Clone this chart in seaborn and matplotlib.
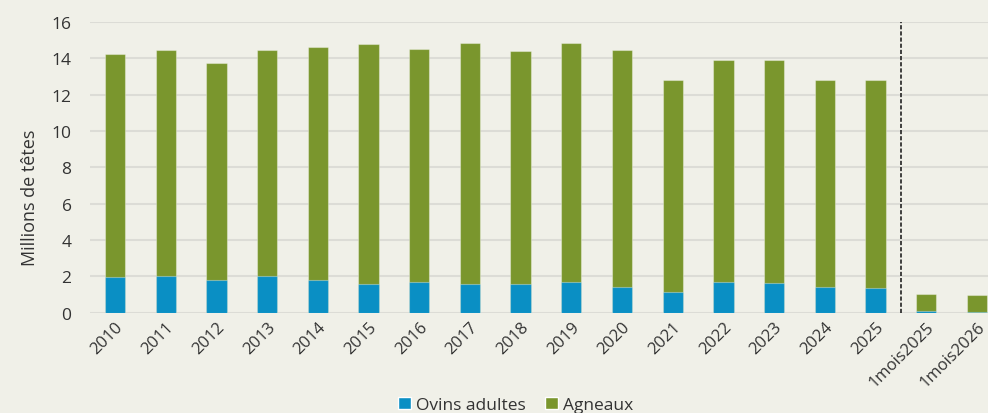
import numpy as np
import pandas as pd
import seaborn as sns
import matplotlib.pyplot as plt
from matplotlib.patches import Patch

# ── Data ────────────────────────────────────────────────────────────────────
periods = ["2010", "2011", "2012", "2013", "2014", "2015", "2016", "2017",
           "2018", "2019", "2020", "2021", "2022", "2023", "2024", "2025",
           "1mois2025", "1mois2026"]
ovins_adultes = [1.98, 2.02, 1.83, 2.05, 1.79, 1.57, 1.70, 1.57, 1.57,
                 1.67, 1.40, 1.14, 1.67, 1.62, 1.40, 1.35, 0.08, 0.05]
agneaux = [12.27, 12.45, 11.91, 12.42, 12.81, 13.19, 12.83, 13.29, 12.81,
           13.15, 13.07, 11.68, 12.25, 12.30, 11.42, 11.47, 0.95, 0.92]

df = pd.DataFrame({"periode": periods,
                   "ovins": ovins_adultes,
                   "agneaux": agneaux})
df["total"] = df["ovins"] + df["agneaux"]

# ── Style ───────────────────────────────────────────────────────────────────
BG = "#f0f0e8"
BLUE = "#0a8fc4"
GREEN = "#7a962d"
TXT = "#333333"

sns.set_theme(style="white", rc={"axes.facecolor": BG, "figure.facecolor": BG})
plt.rcParams["font.family"] = ["Open Sans", "DejaVu Sans"]

fig = plt.figure(figsize=(9.88, 4.14), dpi=100)
# axes runs a little past the right edge, as in the source
ax = fig.add_axes([0.0907, 0.242, 0.9237, 0.703])

edge = (1, 1, 1, 0.35)
sns.barplot(data=df, x="periode", y="total", color=GREEN, width=0.4,
            saturation=1, edgecolor=edge, linewidth=0.8, ax=ax, zorder=3)
sns.barplot(data=df, x="periode", y="ovins", color=BLUE, width=0.4,
            saturation=1, edgecolor=edge, linewidth=0.8, ax=ax, zorder=4)

ax.set_ylim(0, 16)
ax.set_xlim(-0.5, len(periods) - 0.5)
ax.set_yticks(np.arange(0, 17, 2))
ax.yaxis.grid(True, color="#dcdcd6", linewidth=1.5, zorder=0)
ax.set_axisbelow(True)
sns.despine(ax=ax, left=True, bottom=True, right=True, top=True)

ax.axvline(15.5, color="#222222", linestyle=(0, (2.5, 1.2)), linewidth=1.2, zorder=5)

ax.set_xlabel("")
ax.set_ylabel("Millions de têtes", fontsize=13, color=TXT, va="center")
ax.yaxis.set_label_coords(-0.065, 0.40)
ax.tick_params(axis="y", labelsize=12.5, labelcolor=TXT, length=0, pad=13)
ax.tick_params(axis="x", labelsize=12, labelcolor=TXT, length=0, pad=4)
plt.setp(ax.get_xticklabels(), rotation=45, ha="right", rotation_mode="anchor")

handles = [Patch(facecolor=BLUE, label="Ovins adultes"),
           Patch(facecolor=GREEN, label="Agneaux")]
fig.legend(handles=handles, loc="center", bbox_to_anchor=(0.522, 0.02),
           ncol=2, frameon=False, fontsize=12.5, labelcolor=TXT,
           handlelength=0.75, handleheight=0.75, handletextpad=0.3,
           columnspacing=1.1)

fig.savefig("out.png", dpi=100, facecolor=BG)
